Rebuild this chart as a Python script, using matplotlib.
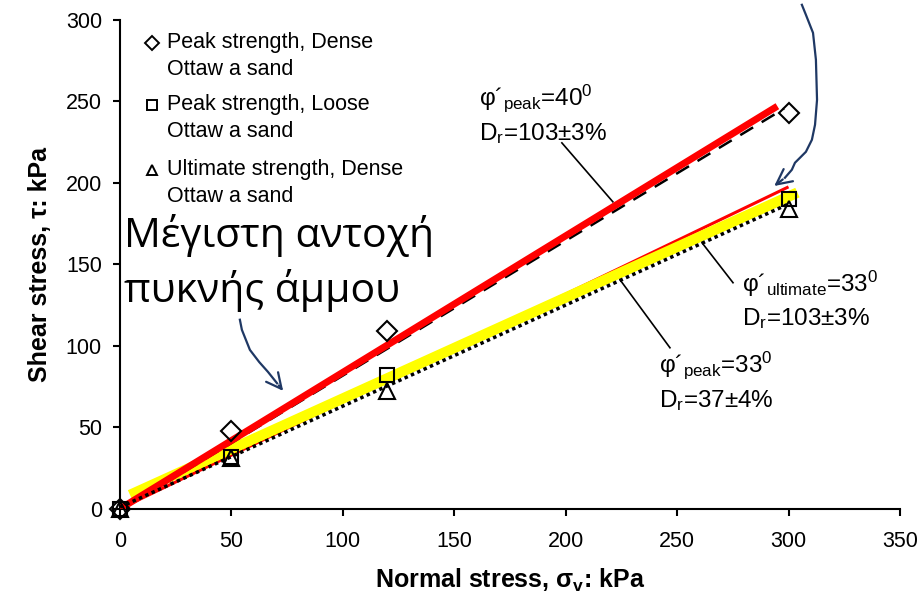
import numpy as np
import matplotlib
matplotlib.use("Agg")
import matplotlib.pyplot as plt

plt.rcParams['font.family'] = ['Liberation Sans', 'DejaVu Sans']
plt.rcParams['mathtext.fontset'] = 'custom'
plt.rcParams['mathtext.rm'] = 'Liberation Sans'
plt.rcParams['mathtext.it'] = 'Liberation Sans:italic'
plt.rcParams['mathtext.bf'] = 'Liberation Sans:bold'

# Μετρήσεις (kPa)
sigma = [0, 50, 120, 300]
tau_peak_dense = [0, 48, 109, 243]
tau_peak_loose = [0, 32, 82, 190]
tau_ult_dense = [0, 31, 72, 184]

# Ευθείες αστοχίας (άκρα)
red_x, red_y = [0, 295], [0, 247]          # peak, dense
dash_x, dash_y = [0, 298], [-1, 245.5]
yellow_x, yellow_y = [4.5, 304], [8.5, 194]  # peak, loose
thin_x, thin_y = [0, 300], [0, 197.5]        # ultimate, dense
dot_x, dot_y = [0, 300], [1, 187]

labels = ['Peak strength, Dense\nOttaw a sand',
          'Peak strength, Loose\nOttaw a sand',
          'Ultimate strength, Dense\nOttaw a sand']
markers = ['D', 's', '^']

fig = plt.figure(figsize=(9.23, 6), dpi=100)
ax = fig.add_axes([0.130, 0.152, 0.845, 0.815])

ax.plot(thin_x, thin_y, color='#ff0000', lw=2.2, solid_capstyle='butt', zorder=2)
ax.plot(yellow_x, yellow_y, color='#ffff00', lw=7.5, solid_capstyle='butt', zorder=2.5)
ax.plot(dot_x, dot_y, color='black', lw=2.5, ls=(0, (1, 1)), zorder=4)
ax.plot(dash_x, dash_y, color='black', lw=1.8, ls=(0, (6, 4)), zorder=3)
ax.plot(red_x, red_y, color='#ff0000', lw=5, solid_capstyle='butt', zorder=3)

for ys, m, ms in zip([tau_peak_dense, tau_peak_loose, tau_ult_dense], markers, [10, 10, 11]):
    ax.plot(sigma, ys, m, ms=ms, mfc='none', mec='black', mew=1.5, zorder=5, clip_on=False)

# Υπόμνημα (σύμβολο στην πρώτη γραμμή)
leg_y = [0.953, 0.826, 0.693]
for lab, m, yy in zip(labels, markers, leg_y):
    ax.plot(0.041, yy, m, ms=7.5, mfc='none', mec='black', mew=1.4,
            transform=ax.transAxes)
    line1, line2 = lab.split('\n')
    ax.text(0.060, yy, line1, fontsize=15.5, va='center', transform=ax.transAxes)
    ax.text(0.060, yy - 27 / 489, line2, fontsize=15.5, va='center', transform=ax.transAxes)

# Επισημάνσεις
ax.text(161, 247.5, r'φ´$_{\mathrm{peak}}$=40$^{0}$', fontsize=17.5)
ax.text(161, 226, r'D$_{\mathrm{r}}$=103±3%', fontsize=17.5)
ax.plot([198.3, 221.2], [224.5, 188.3], color='black', lw=1.2)

ax.text(279, 133, r'φ´$_{\mathrm{ultimate}}$=33$^{0}$', fontsize=17.5)
ax.text(279, 112.5, r'D$_{\mathrm{r}}$=103±3%', fontsize=17.5)
ax.plot([275.1, 261.2], [138.7, 163.2], color='black', lw=1.2)

ax.text(242, 84, r'φ´$_{\mathrm{peak}}$=33$^{0}$', fontsize=17.5)
ax.text(242, 62.5, r'D$_{\mathrm{r}}$=37±4%', fontsize=17.5)
ax.plot([246.8, 224.4], [98.8, 140.5], color='black', lw=1.2)

ax.text(2.0, 160.5, 'Μέγιστη αντοχή', fontsize=29.5, family=['Open Sans', 'DejaVu Sans'])
ax.text(2.0, 127, 'πυκνής άμμου', fontsize=29.5, family=['Open Sans', 'DejaVu Sans'])

navy = '#1f3864'
head = '->,head_length=1.1,head_width=0.55'
arr1_x = [53.8, 54.7, 58.3, 62.5, 66.4, 70.5]
arr1_y = [116, 109.8, 97.5, 90, 84, 77]
ax.plot(arr1_x, arr1_y, color=navy, lw=1.6)
ax.annotate('', xy=(74, 71), xytext=(arr1_x[-1], arr1_y[-1]),
            arrowprops=dict(arrowstyle=head, color=navy, lw=1.6))

arr2_x = [306.0, 307.8, 311.0, 312.3, 312.8, 311.9, 310.5, 307.8, 305.1, 302.9, 301.5, 298.4]
arr2_y = [309.2, 303.1, 292.0, 275.5, 250.9, 235.6, 226.4, 219.0, 215.3, 212.3, 208.0, 203.1]
ax.plot(arr2_x, arr2_y, color=navy, lw=1.6, clip_on=False)
ax.annotate('', xy=(292.6, 197.0), xytext=(arr2_x[-1], arr2_y[-1]),
            arrowprops=dict(arrowstyle=head, color=navy, lw=1.6), annotation_clip=False)

ax.set_xlim(0, 350)
ax.set_ylim(0, 300)
ax.set_xticks(np.arange(0, 351, 50))
ax.set_yticks(np.arange(0, 301, 50))
ax.spines['top'].set_visible(False)
ax.spines['right'].set_visible(False)
for s in ['left', 'bottom']:
    ax.spines[s].set_linewidth(1.5)
ax.tick_params(axis='both', direction='out', length=5, width=1.5, labelsize=15.5)
ax.tick_params(axis='x', pad=11)
ax.tick_params(axis='y', pad=8)

ax.set_xlabel(r'Normal stress, σ$_{\mathbf{v}}$: kPa', fontsize=18, fontweight='bold',
              labelpad=11)
ax.set_ylabel('Shear stress, τ: kPa', fontsize=18, fontweight='bold', labelpad=10)

fig.savefig('out.png', dpi=100)
